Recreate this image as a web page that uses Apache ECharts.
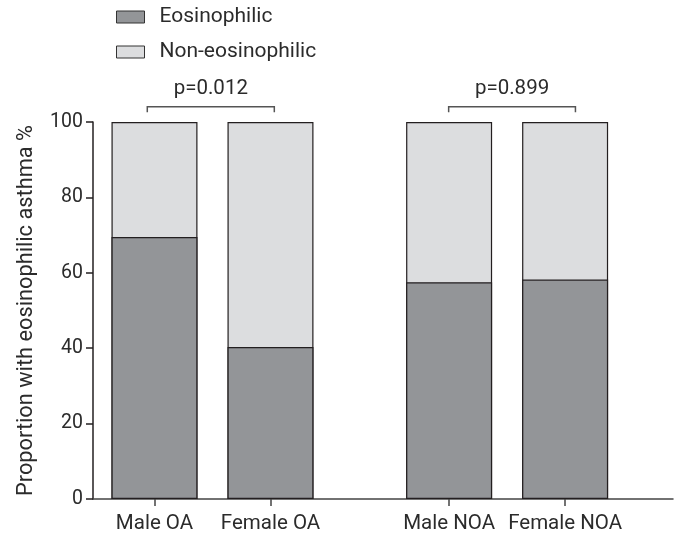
<!DOCTYPE html>
<html>
<head>
<meta charset="utf-8">
<script src="https://cdn.jsdelivr.net/npm/echarts@6/dist/echarts.min.js"></script>
<style>
html,body{margin:0;padding:0;background:#fff;}
#chart{width:678px;height:534px;}
</style>
</head>
<body>
<div id="chart"></div>
<script>
// ---- data ----
const categories = ['Male OA', 'Female OA', 'Male NOA', 'Female NOA'];
const eosinophilic = [69.5, 40.3, 57.5, 58.2];
const nonEosinophilic = [30.5, 59.7, 42.5, 41.8];
const yTicks = [0, 20, 40, 60, 80, 100];
const pLabels = ['p=0.012', 'p=0.899'];
const seriesNames = ['Eosinophilic', 'Non-eosinophilic'];

// ---- layout (axis units on the x value axis) ----
const xPos = [0.53, 1.53, 3.07, 4.07];
const bracketX = [[0.468, 1.563], [3.066, 4.159]];

const FONT = 'Roboto';
const TXT = '#2b2b2b';
const dark = '#939598';
const light = '#dcdddf';
const edge = '#231f20';

const chart = echarts.init(document.getElementById('chart'), null, {renderer: 'canvas'});

const totals = eosinophilic.map((v, i) => v + nonEosinophilic[i]);

function labelFor(val) {
  let best = 0, d = Infinity;
  xPos.forEach((p, i) => { const dd = Math.abs(p - val); if (dd < d) { d = dd; best = i; } });
  return categories[best];
}

const option = {
  animation: false,
  backgroundColor: '#fff',
  textStyle: {fontFamily: FONT},
  legend: {
    orient: 'vertical',
    left: 116,
    top: 6,
    padding: 0,
    itemWidth: 28,
    itemHeight: 12,
    itemGap: 13,
    icon: 'rect',
    data: seriesNames,
    textStyle: {fontFamily: FONT, fontSize: 21, color: TXT, lineHeight: 22, padding: [0, 0, 0, 10]},
    itemStyle: {borderColor: '#333', borderWidth: 1}
  },
  grid: {left: 93, right: 5, top: 122, bottom: 34, containLabel: false},
  xAxis: {
    type: 'value',
    min: 0,
    max: 5,
    splitLine: {show: false},
    axisLine: {show: true, onZero: false, lineStyle: {color: '#444', width: 1.5}},
    axisTick: {show: true, customValues: xPos, length: 7, lineStyle: {color: '#444', width: 1.5}},
    axisLabel: {
      customValues: xPos,
      formatter: (v) => labelFor(v),
      fontFamily: FONT, fontSize: 20.5, color: TXT, margin: 14
    }
  },
  yAxis: {
    type: 'value',
    min: yTicks[0],
    max: yTicks[yTicks.length - 1],
    interval: yTicks[1] - yTicks[0],
    name: 'Proportion with eosinophilic asthma %',
    nameLocation: 'middle',
    nameGap: 55,
    nameTextStyle: {fontFamily: FONT, fontSize: 21.8, color: TXT},
    splitLine: {show: false},
    axisLine: {show: true, lineStyle: {color: edge, width: 1.5}},
    axisTick: {show: true, length: 7, lineStyle: {color: edge, width: 1.5}},
    axisLabel: {fontFamily: FONT, fontSize: 19.5, color: TXT, margin: 10}
  },
  series: [
    {
      name: seriesNames[1],
      type: 'bar',
      barWidth: 86,
      barGap: '-100%',
      itemStyle: {color: light, borderColor: edge, borderWidth: 1.2},
      data: totals.map((v, i) => [xPos[i], v]),
      z: 2
    },
    {
      name: seriesNames[0],
      type: 'bar',
      barWidth: 86,
      barGap: '-100%',
      itemStyle: {color: dark, borderColor: edge, borderWidth: 1.2},
      data: eosinophilic.map((v, i) => [xPos[i], v]),
      z: 3
    },
    {
      type: 'custom',
      clip: false,
      silent: true,
      encode: {x: [0, 1], y: 2},
      data: bracketX.map((b, i) => [b[0], b[1], yTicks[yTicks.length - 1], i]),
      renderItem: function (params, api) {
        const p1 = api.coord([api.value(0), api.value(2)]);
        const p2 = api.coord([api.value(1), api.value(2)]);
        const yTop = p1[1] - 15.3;
        const yEnd = p1[1] - 9.7;
        const idx = api.value(3);
        return {
          type: 'group',
          children: [
            {
              type: 'polyline',
              shape: {points: [[p1[0], yEnd], [p1[0], yTop], [p2[0], yTop], [p2[0], yEnd]]},
              style: {stroke: '#555', lineWidth: 1.5, fill: null}
            },
            {
              type: 'text',
              style: {
                text: pLabels[idx],
                x: (p1[0] + p2[0]) / 2,
                y: p1[1] - 33,
                align: 'center',
                verticalAlign: 'middle',
                fontFamily: FONT,
                fontSize: 20.5,
                fill: TXT
              }
            }
          ]
        };
      }
    }
  ]
};

chart.setOption(option);
</script>
</body>
</html>
